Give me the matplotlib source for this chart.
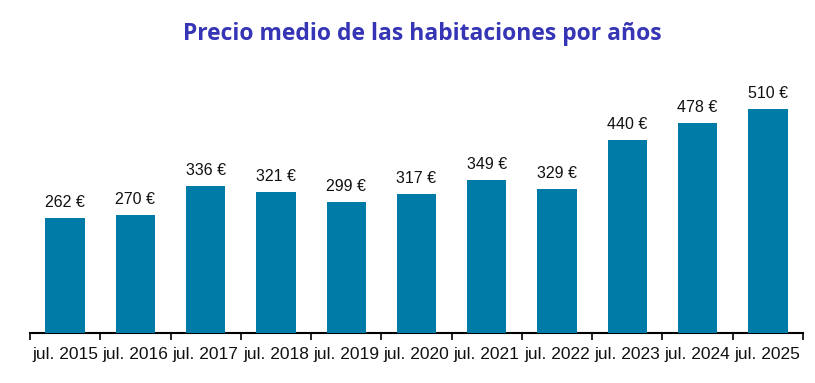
import numpy as np
import matplotlib
matplotlib.use('Agg')
import matplotlib.pyplot as plt

years = ['jul. 2015', 'jul. 2016', 'jul. 2017', 'jul. 2018', 'jul. 2019', 'jul. 2020',
         'jul. 2021', 'jul. 2022', 'jul. 2023', 'jul. 2024', 'jul. 2025']
prices = [262, 270, 336, 321, 299, 317, 349, 329, 440, 478, 510]

fig = plt.figure(figsize=(8.15, 3.83), dpi=100)
ax = fig.add_axes([0.0368, 0.1305, 0.9485, 0.7125])

x = np.arange(len(years))
ax.bar(x, prices, width=0.56, color='#007BA7', zorder=3)
for xi, p in zip(x, prices):
    ax.text(xi, p + 18, f'{p} €', ha='center', va='bottom', fontsize=11.5,
            family='Liberation Sans', color='#111111')

ax.set_xlim(-0.5, len(years) - 0.5)
ax.set_ylim(0, 622)
ax.set_xticks(x)
ax.set_xticklabels(years, fontsize=12.5, family='Liberation Sans', color='#111111')
ax.set_xticks(np.arange(-0.5, len(years)), minor=True)
ax.tick_params(axis='x', which='major', length=0, pad=10)
ax.tick_params(axis='x', which='minor', length=5, width=1.2, direction='out', color='black')
ax.set_yticks([])
for s in ['left', 'right', 'top']:
    ax.spines[s].set_visible(False)
ax.spines['bottom'].set_linewidth(1.5)

fig.text(0.518, 0.912, 'Precio medio de las habitaciones por años', ha='center', va='center',
         fontsize=16.5, fontweight='bold', family='Open Sans', color='#3535B5')

plt.savefig('out.png', dpi=100)
